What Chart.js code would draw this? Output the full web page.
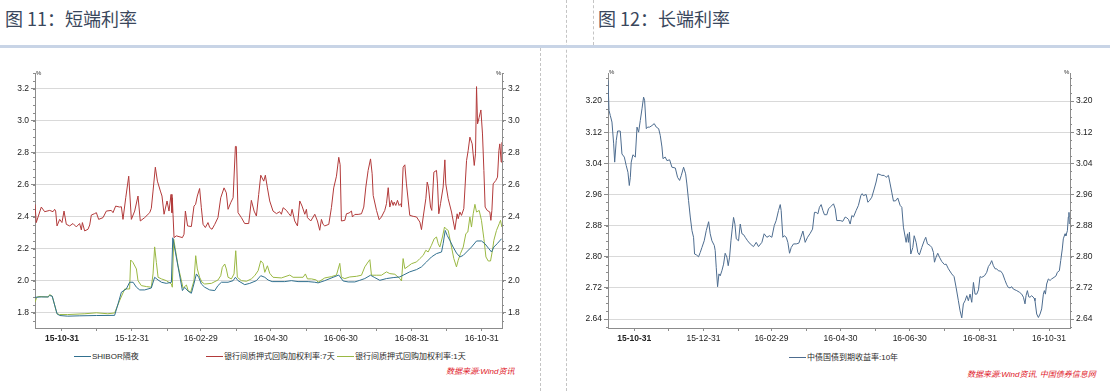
<!DOCTYPE html>
<html>
<head>
<meta charset="utf-8">
<script src="https://cdn.jsdelivr.net/npm/chart.js@4.4.1/dist/chart.umd.min.js"></script>
<style>
  body { margin: 0; width: 1110px; height: 391px; background: #fff; position: relative; overflow: hidden; font-family: "Liberation Sans", "Noto Sans CJK SC", sans-serif; }
  .title { position: absolute; top: 7px; font-size: 18px; line-height: 22px; color: #3a475c; font-family: "Noto Sans CJK SC", sans-serif; white-space: nowrap; }
  .bar { position: absolute; left: 0; top: 45px; width: 1110px; height: 3px; background: #c8d4e6; }
  .vline { position: absolute; width: 0; border-left: 1px dashed #c4c4c4; }
  canvas { position: absolute; }
  .pct { position: absolute; font-size: 6px; line-height: 6px; color: #333; }
  .legend { position: absolute; font-size: 8px; line-height: 10px; color: #2a2a2a; white-space: nowrap; }
  .legend i { display: inline-block; width: 17px; height: 1px; vertical-align: middle; margin-right: 1px; }
  .src { position: absolute; font-size: 8px; line-height: 10px; color: #e0202a; font-style: italic; white-space: nowrap; }
</style>
</head>
<body>
<div class="title" style="left:5px">图 11：短端利率</div>
<div class="title" style="left:598px">图 12：长端利率</div>
<div class="vline" style="left:593px;top:0;height:45px"></div>
<div class="vline" style="left:566px;top:0;height:391px"></div>
<div class="vline" style="left:540px;top:48px;height:343px"></div>
<div class="bar"></div>

<canvas id="shortChart" width="540" height="290" style="left:0;top:60px;width:540px;height:290px"></canvas>
<canvas id="longChart" width="545" height="290" style="left:565px;top:60px;width:545px;height:290px"></canvas>

<div class="pct" style="left:36px;top:70px">%</div>
<div class="pct" style="left:496px;top:70px">%</div>
<div class="pct" style="left:609px;top:69px">%</div>
<div class="pct" style="left:1064px;top:69px">%</div>

<div class="legend" style="left:74px;top:352px"><i style="background:#31708f"></i>SHIBOR隔夜</div>
<div class="legend" style="left:206px;top:352px"><i style="background:#b23a3a"></i>银行间质押式回购加权利率:7天</div>
<div class="legend" style="left:337px;top:352px"><i style="background:#9ab843"></i>银行间质押式回购加权利率:1天</div>
<div class="src" style="left:446px;top:367px">数据来源:Wind资讯</div>

<div class="legend" style="left:789px;top:353px"><i style="background:#4d6c8f"></i>中债国债到期收益率:10年</div>
<div class="src" style="left:967px;top:370px">数据来源:Wind资讯, 中国债券信息网</div>

<script>
// x axis: days since 2015-10-31, ticks on month ends
const monthEndDays = [0, 30, 61, 92, 121, 152, 182, 213, 243, 274, 305, 335, 366];
const monthEndLabels = ['15-10-31', '', '15-12-31', '', '16-02-29', '', '16-04-30', '', '16-06-30', '', '16-08-31', '', '16-10-31'];

const shortRateTicks = [1.8, 2.0, 2.2, 2.4, 2.6, 2.8, 3.0, 3.2];
const longRateTicks = [2.64, 2.72, 2.80, 2.88, 2.96, 3.04, 3.12, 3.20];

// SHIBOR隔夜 [day, %]
const shibor = [[-23.5,1.898],[-18,1.9],[-12,1.9],[-10.7,1.909],[-8.5,1.905],[-4.3,1.795],[-2,1.784],[5,1.78],[15,1.782],[30,1.784],
  [45.9,1.785],[48.9,1.857],[51.8,1.93],[56.1,1.95],[59,1.992],[62,1.992],[64.9,1.961],[67.8,1.944],[72.1,1.944],[75,1.95],
  [77.9,1.956],[80.8,2.023],[83.8,2.006],[86.7,1.992],[91,1.985],[95.4,1.992],[96.6,2.27],[105,1.94],[107,1.96],[110,1.936],
  [112.8,1.923],[115,1.981],[117.2,2.044],[119.2,2.023],[121.5,1.981],[124.4,1.961],[128.8,1.944],[133.2,1.94],[136,1.971],[139,1.992],
  [144.8,1.992],[149.2,2.002],[151.2,2.023],[153.5,2.002],[159.3,1.977],[163.7,1.985],[169.5,2.002],[173.3,2.033],[176.8,2.023],[179.7,2.006],
  [183.2,1.996],[194.2,1.996],[200,2.002],[205.8,1.996],[214.6,1.996],[220.4,1.992],[223.3,1.988],[229.1,2.002],[236.4,2.023],[241.3,2.037],
  [245.1,2.0],[249.5,1.994],[255.3,1.994],[259.6,2.004],[264,2.015],[269,2.036],[272.7,2.021],[277.1,2.004],[282.9,2.015],[288.7,2.021],
  [294.5,2.025],[297.4,2.036],[303.2,2.057],[309.1,2.071],[313.4,2.088],[317.8,2.119],[322.1,2.15],[326.5,2.171],[330.9,2.181],[332.3,2.233],
  [334.1,2.316],[335.8,2.285],[338.1,2.254],[341,2.212],[343.9,2.175],[346.9,2.15],[349.8,2.16],[352.7,2.181],[357,2.212],[361.4,2.25],
  [365.7,2.25],[368.7,2.233],[372.1,2.202],[374.5,2.181],[376.5,2.212],[379.4,2.233],[383.2,2.264]];

// 银行间质押式回购加权利率:7天 [day, %]
const repo7 = [[-23.5,2.479],[-22.4,2.365],[-18,2.462],[-15.1,2.433],[-10.7,2.441],[-7.8,2.433],[-6.4,2.448],[-5.5,2.437],[-4.3,2.344],[-2,2.385],
  [0,2.365],[1.8,2.437],[3.8,2.354],[6.7,2.344],[9.6,2.359],[12.5,2.338],[15.4,2.359],[16.9,2.319],[17.8,2.365],[19.8,2.313],
  [22.7,2.323],[24.2,2.35],[25.6,2.412],[28.5,2.421],[30,2.427],[32,2.385],[35.8,2.396],[38.7,2.437],[43,2.441],[44.5,2.427],
  [46.8,2.468],[50.3,2.462],[51.8,2.464],[53.2,2.385],[55.6,2.52],[58.2,2.655],[60.5,2.385],[63.4,2.437],[66.3,2.531],[68.3,2.375],
  [72.1,2.396],[76.5,2.427],[77.9,2.454],[79.4,2.562],[81.4,2.711],[83.2,2.624],[85.8,2.562],[87.2,2.531],[89,2.417],[91.6,2.5],
  [93.3,2.437],[95.1,2.541],[95.9,2.427],[96.2,2.52],[96.8,2.417],[97.7,2.271],[99.7,2.282],[105,2.271],[106.4,2.292],[107.6,2.437],
  [109.5,2.344],[112.8,2.34],[115.1,2.468],[116.5,2.479],[118,2.531],[120,2.578],[121.5,2.458],[123,2.354],[125,2.334],[127.3,2.365],
  [128.8,2.334],[130.8,2.323],[133.2,2.354],[136,2.396],[138.4,2.52],[141.3,2.582],[143.3,2.551],[144.8,2.448],[147.1,2.489],[149.2,2.52],
  [151.2,2.841],[152,2.841],[153.5,2.427],[156.4,2.396],[159.3,2.359],[162.8,2.359],[165.1,2.504],[167.5,2.437],[169.5,2.406],[171.5,2.541],
  [173.3,2.661],[175.9,2.624],[177.3,2.661],[179.1,2.582],[181.1,2.5],[184,2.437],[187,2.421],[189.8,2.433],[191.3,2.417],[192.8,2.458],
  [195.7,2.441],[197.7,2.421],[199.4,2.406],[200.6,2.448],[202.9,2.375],[205.3,2.344],[207.3,2.5],[209.3,2.468],[211.7,2.417],[213.1,2.448],
  [214,2.396],[216.9,2.375],[220.4,2.417],[222.7,2.375],[224.7,2.317],[226.2,2.385],[227.6,2.354],[229.1,2.344],[232.6,2.354],[234.9,2.458],
  [236.9,2.582],[239.3,2.655],[241.3,2.773],[242.5,2.727],[243.6,2.375],[246.6,2.379],[248,2.42],[250.3,2.425],[252.4,2.437],[253.2,2.4],
  [255.3,2.416],[258.2,2.416],[261.1,2.42],[263.1,2.462],[264.9,2.587],[266.9,2.691],[269,2.763],[270.4,2.67],[271.3,2.535],[274.2,2.441],
  [276.5,2.383],[278.5,2.4],[281.4,2.441],[282.9,2.483],[284.4,2.583],[285.8,2.462],[287.3,2.504],[288.7,2.472],[289.6,2.493],[291,2.472],
  [292.5,2.504],[293.9,2.472],[295.4,2.483],[296,2.462],[297.4,2.711],[298.9,2.726],[300.3,2.607],[303.2,2.41],[306.2,2.404],[309.1,2.4],
  [312,2.368],[313.4,2.321],[314.9,2.4],[317.2,2.514],[318.4,2.618],[319.5,2.587],[321.3,2.462],[322.4,2.441],[324.2,2.68],[326.5,2.691],
  [327.4,2.607],[328.5,2.42],[330,2.483],[332.3,2.587],[333.8,2.757],[334.6,2.607],[336.7,2.514],[339.6,2.431],[342.5,2.321],[344.5,2.42],
  [345.4,2.389],[346.9,2.431],[348.3,2.41],[350.3,2.452],[352.7,2.753],[354.1,2.815],[355.6,2.899],[357.6,2.857],[359.4,2.722],[360.5,2.795],
  [361.4,3.215],[362.3,2.982],[363.7,3.023],[365.2,3.069],[366.6,2.919],[367.8,2.691],[368.9,2.462],[370.7,2.441],[373,2.431],[373.9,2.379],
  [374.8,2.441],[375.9,2.607],[378.2,2.628],[379.7,2.649],[380.9,2.815],[381.7,2.857],[382.9,2.743],[383.5,2.867]];

// 银行间质押式回购加权利率:1天 [day, %]
const repo1 = [[-23.5,1.867],[-22,1.898],[-20,1.903],[-12,1.9],[-10.7,1.915],[-8.5,1.905],[-4.3,1.795],[-2,1.79],[5,1.79],[20,1.795],
  [30,1.801],[40,1.795],[45.9,1.8],[50.3,1.878],[54.7,1.95],[59,1.95],[59.9,2.131],[61.9,2.116],[64.9,2.075],[66.3,2.002],
  [69.2,1.971],[73.6,1.965],[77.9,1.961],[79.4,2.044],[80.8,2.213],[82.3,2.116],[83.8,2.023],[86.7,2.013],[91,2.002],[95.4,1.981],
  [96.2,1.961],[97.4,2.261],[98.6,2.209],[101.2,2.095],[105.6,1.955],[108.5,1.975],[110,1.94],[112.2,1.93],[115.1,2.002],[116.6,2.158],
  [118,2.075],[120,2.023],[122.1,1.992],[124.4,1.981],[130.3,1.985],[136,2.006],[138.4,2.033],[139.8,2.085],[141.9,2.106],[143.3,2.075],
  [144.8,2.023],[147.7,2.013],[150,2.044],[151.5,2.189],[152.9,2.023],[156.4,2.002],[160.8,1.998],[165.1,2.013],[168,2.033],[171,2.064],
  [173.3,2.126],[175.3,2.11],[176.8,2.054],[179.1,2.095],[181.1,2.048],[184,2.023],[191.3,2.019],[198.6,2.037],[201.5,2.023],[210.2,2.023],
  [212.2,2.044],[214,2.013],[217.5,2.013],[221.8,2.006],[223.3,1.992],[229.1,2.019],[234.9,2.027],[239.3,2.037],[242.2,2.11],[243.6,2.023],
  [246.6,2.015],[250.9,2.025],[256.7,2.029],[261.1,2.036],[264,2.088],[266.9,2.119],[268.4,2.133],[269.8,2.036],[274.2,2.036],[278.5,2.036],
  [282.9,2.057],[285.8,2.046],[290.2,2.042],[294.5,2.015],[296,2.0],[297.4,2.14],[298.9,2.077],[301.8,2.092],[304.7,2.108],[309.1,2.119],
  [312,2.14],[314.9,2.16],[317.2,2.192],[319.2,2.181],[322.1,2.223],[324.5,2.264],[326.5,2.275],[328,2.233],[329.4,2.212],[331.7,2.275],
  [333.5,2.337],[334.6,2.327],[336.7,2.316],[339.6,2.212],[341.6,2.14],[343.9,2.088],[345.4,2.129],[347.4,2.171],[349.8,2.212],[352.1,2.296],
  [353.8,2.306],[355.6,2.4],[357,2.337],[358.5,2.42],[360,2.479],[361.4,2.431],[363.7,2.441],[365.7,2.379],[367.8,2.264],[369.6,2.15],
  [371.6,2.125],[373.6,2.125],[375.3,2.192],[376.5,2.254],[378.8,2.316],[381.2,2.358],[382.3,2.379],[383.5,2.337]];

// 中债国债到期收益率:10年 [day, %]
const bond10y = [[-23.2,3.253],[-22.3,3.176],[-21.2,3.163],[-19.7,3.146],[-18.2,3.09],[-17.3,3.043],[-15.9,3.099],[-14.7,3.123],[-12.4,3.123],[-10.9,3.064],
  [-8.8,3.056],[-7.1,3.034],[-5.6,3.017],[-4.4,2.983],[-3.5,3.004],[-2.7,3.043],[-1.2,3.062],[0.9,3.056],[2.4,3.133],[3.8,3.12],
  [5.3,3.15],[6.8,3.18],[8.2,3.21],[9.1,3.202],[10.6,3.129],[11.8,3.133],[13.5,3.133],[15.6,3.137],[17.6,3.142],[19.4,3.133],
  [21.5,3.129],[22.9,3.112],[24.4,3.082],[25.3,3.052],[27.3,3.056],[28.8,3.047],[31.2,3.049],[33.2,3.03],[36.2,3.028],[38.2,3.004],
  [40,2.996],[41.5,3.009],[43.5,3.03],[45.3,3.013],[46.4,2.987],[47.9,2.944],[49.4,2.902],[50.9,2.867],[52.3,2.85],[53.2,2.807],
  [54.7,2.805],[56.7,2.8],[58.2,2.811],[59.7,2.824],[61.7,2.841],[63.5,2.867],[65.6,2.89],[67,2.859],[68.5,2.841],[70.6,2.829],
  [71.4,2.816],[72.3,2.773],[73.5,2.723],[74.7,2.756],[75.8,2.751],[77.3,2.764],[78.8,2.781],[80.2,2.809],[81.7,2.799],[82.9,2.777],
  [84.1,2.799],[85.3,2.841],[86.4,2.871],[87.6,2.901],[88.8,2.884],[90,2.846],[92,2.841],[93.5,2.884],[95,2.859],[96.4,2.857],
  [97.9,2.85],[100,2.841],[102.3,2.833],[105.2,2.826],[107.6,2.837],[109.6,2.826],[112.6,2.837],[114.6,2.859],[117,2.85],[119.3,2.854],
  [121.4,2.85],[123.5,2.88],[125.2,2.893],[127.3,2.919],[128.8,2.934],[129.6,2.919],[131.1,2.85],[132.3,2.854],[134.1,2.85],[135.5,2.837],
  [137,2.809],[138.5,2.824],[140.5,2.833],[142.9,2.833],[145.2,2.835],[147,2.85],[148.8,2.866],[150.8,2.837],[152.9,2.85],[155.2,2.86],
  [157.3,2.871],[159,2.914],[160.5,2.914],[162,2.91],[163.4,2.927],[164.9,2.934],[166.4,2.919],[167.8,2.908],[169.9,2.908],[171.4,2.923],
  [173.4,2.929],[175.8,2.936],[177.3,2.923],[178.7,2.893],[181.7,2.893],[184,2.891],[186.1,2.902],[187.5,2.9],[189,2.896],[190.5,2.884],
  [192,2.906],[193.4,2.902],[195.8,2.919],[197.8,2.932],[199.9,2.957],[201.1,2.962],[202.2,2.957],[204.6,2.96],[206.1,2.94],[207.5,2.944],
  [209.6,2.953],[211.7,2.974],[213.4,2.992],[214.9,3.013],[217,3.011],[218.4,3.009],[220.5,3.009],[222.2,3.004],[224.3,3.009],[225.8,2.987],
  [227.2,2.966],[228.7,2.943],[230.8,2.944],[232.5,2.951],[234.6,2.932],[236.1,2.927],[237.5,2.876],[239.9,2.837],[241.1,2.859],[241.9,2.837],
  [242.8,2.863],[244,2.807],[245.8,2.824],[247,2.854],[248.7,2.837],[250.2,2.811],[251.6,2.805],[253.7,2.824],[255.8,2.841],[257.2,2.85],
  [258.7,2.833],[261,2.829],[262.5,2.824],[264,2.811],[264.9,2.786],[266.3,2.799],[267.8,2.809],[269.3,2.799],[271.3,2.788],[273.7,2.78],
  [275.2,2.781],[277.2,2.769],[280.1,2.756],[282.2,2.749],[284,2.721],[286,2.687],[287.5,2.661],[289,2.643],[290.4,2.679],[291.9,2.687],
  [293.4,2.7],[294.8,2.687],[296.3,2.704],[297.8,2.683],[299.3,2.734],[300.7,2.704],[302.2,2.704],[303.7,2.715],[305.1,2.749],[306.6,2.747],
  [309,2.751],[311,2.76],[312.5,2.775],[314,2.781],[315.4,2.79],[316.9,2.777],[318.4,2.769],[319.8,2.769],[321.3,2.764],[323.4,2.763],
  [325.1,2.756],[327.2,2.739],[328.7,2.728],[330.1,2.721],[331.6,2.72],[333.1,2.723],[334.5,2.717],[337.5,2.713],[339.8,2.709],[341.9,2.704],
  [343.4,2.696],[344.8,2.679],[345.7,2.7],[346.9,2.713],[348.1,2.697],[349.2,2.696],[350.7,2.7],[352.8,2.694],[353.6,2.687],[355.1,2.653],
  [356.6,2.644],[358.1,2.653],[359.5,2.666],[361,2.704],[361.9,2.713],[362.8,2.704],[363.9,2.73],[365.4,2.743],[366.9,2.739],[368.3,2.743],
  [370.4,2.747],[372.2,2.751],[373.3,2.76],[375.1,2.764],[376.3,2.79],[377.7,2.82],[378.6,2.846],[380.1,2.859],[380.9,2.854],[382.2,2.867],
  [383,2.902],[383.6,2.914],[383.9,2.884]];

const axisColor = '#8c8c8c';
const tickFont = { family: 'Liberation Sans', size: 8.5 };

const toPoints = (pairs) => pairs.map(([x, y]) => ({ x, y }));

const lineSet = (label, pairs, color) => ({
  label,
  data: toPoints(pairs),
  borderColor: color,
  borderWidth: 1,
  borderJoinStyle: 'round',
  pointRadius: 0,
  tension: 0,
  fill: false,
});

// small ticks between the labelled ones on both y axes
const minorTicks = {
  id: 'minorTicks',
  afterDraw(chart) {
    const ctx = chart.ctx;
    ctx.save();
    ctx.strokeStyle = axisColor;
    ctx.lineWidth = 1;
    ['y', 'y2'].forEach((id) => {
      const s = chart.scales[id];
      const majors = s.ticks.map((t) => t.value);
      const step = (majors[1] - majors[0]) / 4;
      const left = s.position === 'left';
      const edge = left ? chart.chartArea.left : chart.chartArea.right;
      for (let v = majors[0] - step * 3; v < s.max; v += step) {
        if (v < s.min) continue;
        const y = Math.round(s.getPixelForValue(v)) + 0.5;
        ctx.beginPath();
        ctx.moveTo(edge, y);
        ctx.lineTo(left ? edge - 2 : edge + 2, y);
        ctx.stroke();
      }
    });
    ctx.restore();
  },
};

const xAxis = (min, max) => ({
  type: 'linear',
  min, max,
  afterBuildTicks: (s) => { s.ticks = monthEndDays.map((v) => ({ value: v })); },
  afterFit: (s) => { s.height = 22; },
  border: { color: axisColor },
  grid: { drawOnChartArea: false, tickColor: axisColor, tickLength: 3 },
  ticks: {
    autoSkip: false,
    maxRotation: 0,
    padding: 3,
    color: '#222',
    font: (ctx) => ({ ...tickFont, weight: ctx.index === 0 ? 'bold' : 'normal' }),
    callback: (v, i) => monthEndLabels[i],
  },
});

const yAxis = (position, ticks, min, max, digits, width) => ({
  type: 'linear',
  position,
  min, max,
  afterBuildTicks: (s) => { s.ticks = ticks.map((v) => ({ value: v })); },
  afterFit: (s) => { s.width = width; },
  border: { color: axisColor },
  grid: { drawOnChartArea: position === 'left', color: '#d9d9d9', tickColor: axisColor, tickLength: 4 },
  ticks: { autoSkip: false, padding: 2, color: '#222', font: tickFont, callback: (v) => v.toFixed(digits) },
});

const baseOptions = (scales) => ({
  responsive: false,
  animation: false,
  layout: { padding: { top: 13, left: 0, right: 0, bottom: 0 } },
  plugins: { legend: { display: false }, tooltip: { enabled: false } },
  scales,
});

new Chart(document.getElementById('shortChart'), {
  type: 'line',
  data: {
    datasets: [
      lineSet('SHIBOR隔夜', shibor, '#31708f'),
      lineSet('银行间质押式回购加权利率:1天', repo1, '#9ab843'),
      lineSet('银行间质押式回购加权利率:7天', repo7, '#b23a3a'),
    ],
  },
  options: baseOptions({
    x: xAxis(-23.5, 383.6),
    y: yAxis('left', shortRateTicks, 1.706, 3.3, 1, 35),
    y2: yAxis('right', shortRateTicks, 1.706, 3.3, 1, 38),
  }),
  plugins: [minorTicks],
});

new Chart(document.getElementById('longChart'), {
  type: 'line',
  data: {
    datasets: [lineSet('中债国债到期收益率:10年', bond10y, '#4d6c8f')],
  },
  options: baseOptions({
    x: xAxis(-23.2, 384.5),
    y: yAxis('left', longRateTicks, 2.617, 3.272, 2, 43),
    y2: yAxis('right', longRateTicks, 2.617, 3.272, 2, 40),
  }),
  plugins: [minorTicks],
});
</script>
</body>
</html>
